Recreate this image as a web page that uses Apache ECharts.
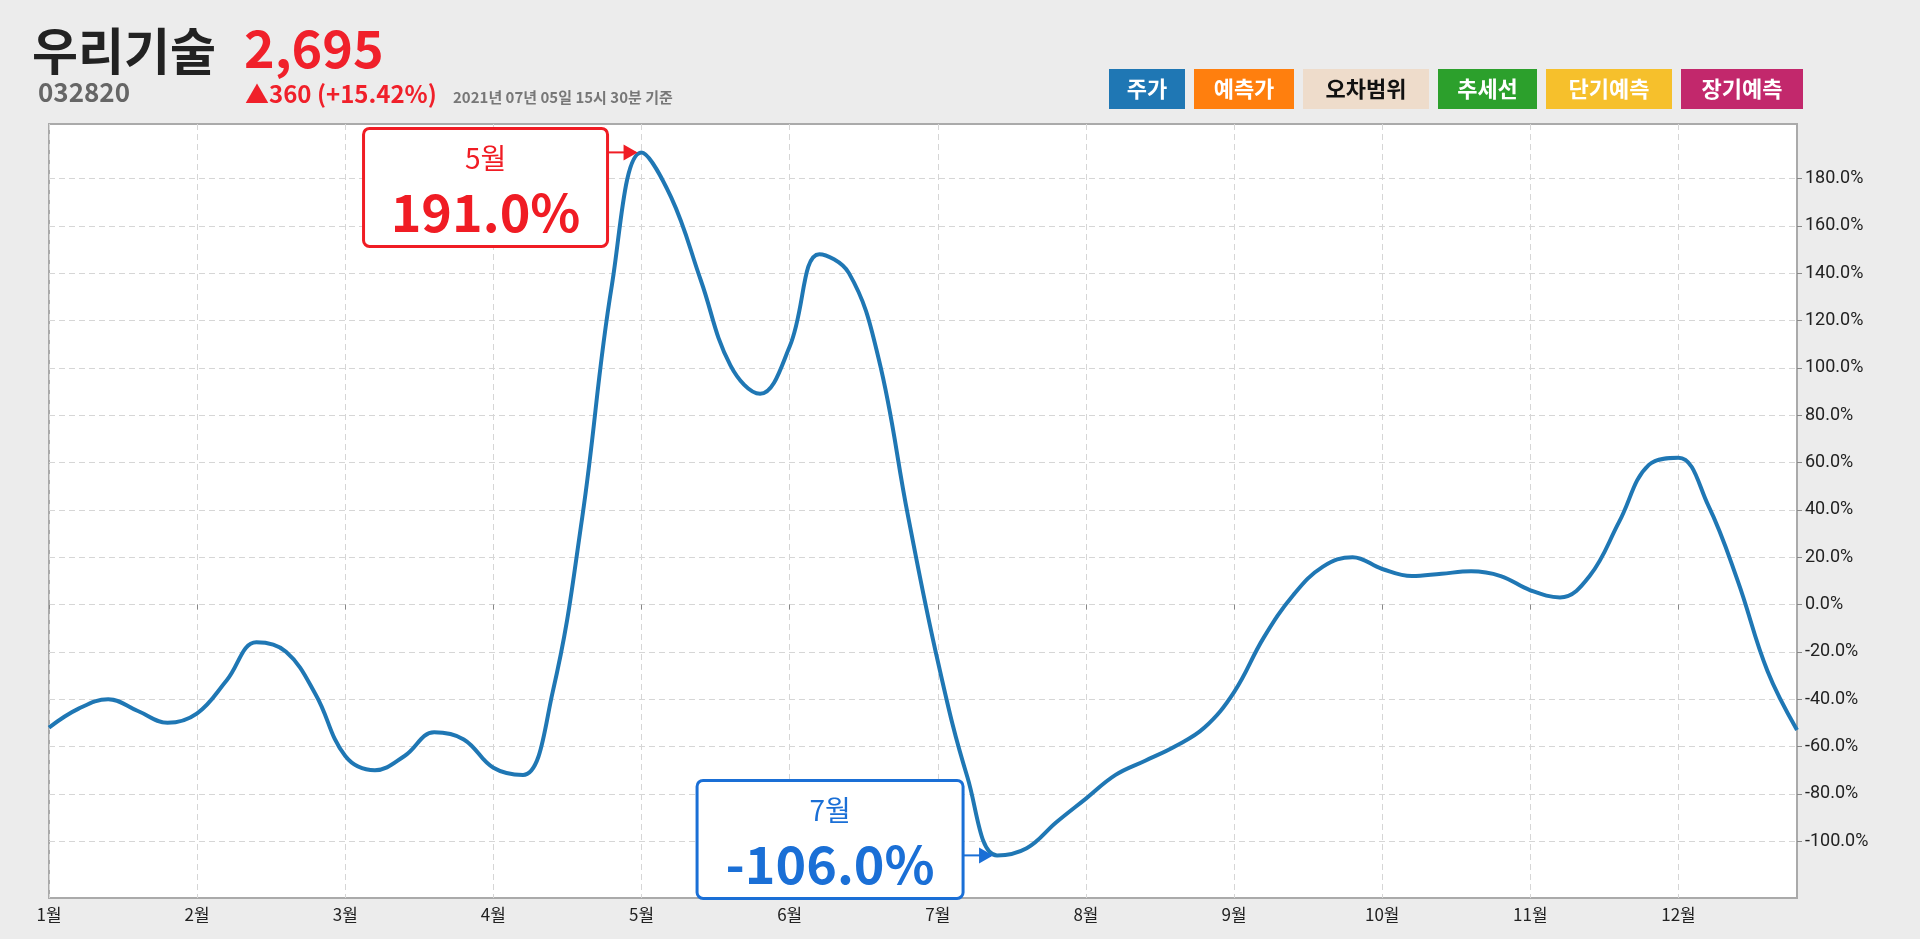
<!DOCTYPE html>
<html>
<head>
<meta charset="utf-8">
<script src="https://cdn.jsdelivr.net/npm/echarts@6/dist/echarts.min.js"></script>
<style>
  html, body { margin: 0; padding: 0; background: #ececec; }
  #chart { width: 1920px; height: 939px; }
</style>
</head>
<body>
<div id="chart"></div>
<script>
// 월 눈금 (0.2개월 간격 데이터)
const monthLabels = ['1월','2월','3월','4월','5월','6월','7월','8월','9월','10월','11월','12월'];
const stepsPerMonth = 5;
const priceChange = [
  -52, -44, -40, -45, -50, -46, -32, -16, -20, -38,
  -64, -70, -64, -54, -57, -69, -72, -37, 37, 135,
  191, 172, 137, 101, 89, 109, 148, 140, 104, 37,
  -24, -73, -106, -103, -92, -82, -72, -66, -60, -52,
  -37, -14, 4, 16, 20, 15, 12, 13, 14, 12,
  6, 3, 12, 35, 59, 62, 42, 10, -28, -53
];
const yTicks = [-100, -80, -60, -40, -20, 0, 20, 40, 60, 80, 100, 120, 140, 160, 180];
const legendNames = ['주가', '예측가', '오차범위', '추세선', '단기예측', '장기예측'];
const legendColors = ['#1f77b4', '#ff7f0e', '#eedccb', '#2ca02c', '#f6c02c', '#c2286c'];
const legendText = ['#fff', '#fff', '#111', '#fff', '#fff', '#fff'];
const legendWidths = [76, 100, 126, 99, 126, 122];

const stock = { name: '우리기술', code: '032820', price: '2,695', change: '▲360 (+15.42%)', date: '2021년 07년 05일 15시 30분 기준' };
const highNote = { month: '5월', value: '191.0%', index: 20 };
const lowNote = { month: '7월', value: '-106.0%', index: 32 };

const categories = priceChange.map((v, i) => i % stepsPerMonth === 0 ? monthLabels[i / stepsPerMonth] : '');

const chart = echarts.init(document.getElementById('chart'));

const legendGraphics = [];
let lx = 1109;
legendNames.forEach((n, i) => {
  legendGraphics.push({
    type: 'group', left: lx, top: 69,
    children: [
      { type: 'rect', shape: { x: 0, y: 0, width: legendWidths[i], height: 40 }, style: { fill: legendColors[i] } },
      { type: 'text', x: legendWidths[i] / 2, y: 20, style: { text: n, fill: legendText[i], font: 'bold 22px "Noto Sans CJK KR"', align: 'center', verticalAlign: 'middle' } }
    ]
  });
  lx += legendWidths[i] + 9;
});

const option = {
  backgroundColor: '#ececec',
  animation: false,
  grid: { left: 49, right: 123, top: 124, bottom: 41, show: true, backgroundColor: '#fff', borderColor: '#aaa', borderWidth: 2 },
  xAxis: {
    type: 'category',
    data: categories,
    boundaryGap: false,
    axisLine: { show: false },
    axisTick: { show: true, interval: (i) => i % stepsPerMonth === 0, length: 5, lineStyle: { color: '#888' } },
    axisLabel: { interval: (i) => i % stepsPerMonth === 0, color: '#222', fontSize: 17, fontFamily: 'Noto Sans CJK KR', margin: 8 },
    splitLine: { show: true, interval: (i) => i % stepsPerMonth === 0, lineStyle: { color: '#d6d6d6', type: [6, 4] } }
  },
  yAxis: {
    type: 'value',
    position: 'right',
    min: -124, max: 203,
    axisLine: { show: false },
    axisTick: { show: true, customValues: yTicks, length: 5, lineStyle: { color: '#888' } },
    axisLabel: { customValues: yTicks, formatter: v => v.toFixed(1) + '%', color: '#222', fontSize: 18, fontFamily: 'Roboto', margin: 8 },
    splitLine: { show: true, lineStyle: { color: '#d6d6d6', type: [6, 4] } }
  },
  series: [{
    name: '주가',
    type: 'line',
    data: priceChange,
    smooth: 0.4,
    symbol: 'none',
    lineStyle: { color: '#1f77b4', width: 4 }
  }],
  graphic: [
    { type: 'text', left: 32, top: 26, style: { text: stock.name, font: 'bold 50px "Noto Sans CJK KR"', fill: '#222' } },
    { type: 'text', left: 244, top: 22, style: { text: stock.price, font: 'bold 52px "Noto Sans CJK KR"', fill: '#f0202a' } },
    { type: 'text', left: 38, top: 79, style: { text: stock.code, font: 'bold 26px "Noto Sans CJK KR"', fill: '#666' } },
    { type: 'text', left: 245, top: 82, style: { text: stock.change, font: 'bold 24px "Noto Sans CJK KR"', fill: '#f0202a' } },
    { type: 'text', left: 453, top: 90, style: { text: stock.date, font: 'bold 15px "Noto Sans CJK KR"', fill: '#777' } }
  ].concat(legendGraphics)
};
chart.setOption(option);

function noteGraphics(note, color, boxW, boxH, dx, dy) {
  const p = chart.convertToPixel({ xAxisIndex: 0, yAxisIndex: 0 }, [note.index, priceChange[note.index]]);
  const right = p[0] - dx;
  const left = right - boxW;
  const top = p[1] + dy;
  const ay = p[1];
  return [
    { type: 'rect', shape: { x: left, y: top, width: boxW, height: boxH, r: 6 }, style: { fill: '#fff', stroke: color, lineWidth: 3 }, z: 10 },
    { type: 'text', x: left + boxW / 2, y: top + 30, style: { text: note.month, fill: color, font: '28px "Noto Sans CJK KR"', align: 'center', verticalAlign: 'middle' }, z: 11 },
    { type: 'text', x: left + boxW / 2, y: top + 84, style: { text: note.value, fill: color, font: 'bold 52px "Noto Sans CJK KR"', align: 'center', verticalAlign: 'middle' }, z: 11 },
    { type: 'line', shape: { x1: right, y1: ay, x2: p[0] - 6, y2: ay }, style: { stroke: color, lineWidth: 2 }, z: 11 },
    { type: 'polygon', shape: { points: [[p[0] - 4, ay], [p[0] - 18, ay - 8], [p[0] - 18, ay + 8]] }, style: { fill: color }, z: 11 }
  ];
}

const notes = noteGraphics(highNote, '#f01c24', 244, 118, 34, -24)
  .concat(noteGraphics(lowNote, '#1a6fd6', 266, 118, 34, -75));
chart.setOption({ graphic: option.graphic.concat(notes) });
</script>
</body>
</html>
